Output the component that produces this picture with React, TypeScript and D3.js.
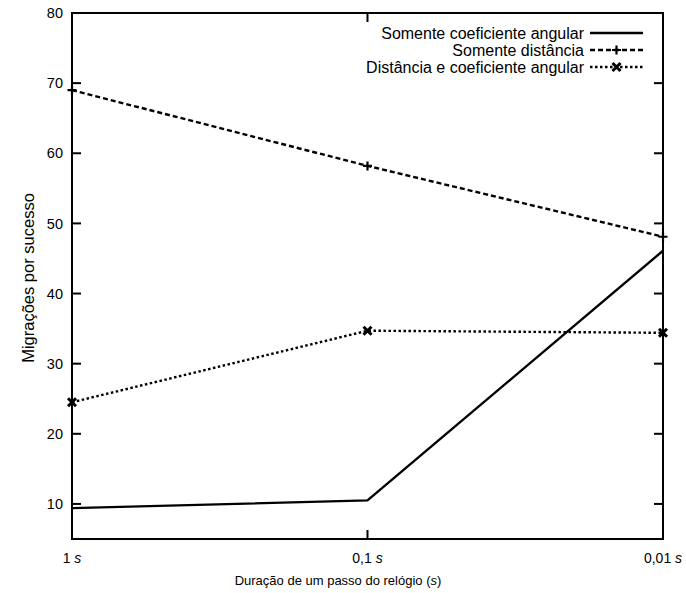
import React from "react";
import * as d3 from "d3";

// Clock step durations (seconds) and their tick labels
const durations = [1, 0.1, 0.01];
const durationLabels = ["1", "0,1", "0,01"];

// Migrations per success for each strategy
const somenteCoeficiente = [9.4, 10.5, 46.1];
const somenteDistancia = [69.0, 58.2, 48.1];
const distanciaECoeficiente = [24.5, 34.7, 34.4];

const seriesNames = [
  "Somente coeficiente angular",
  "Somente distância",
  "Distância e coeficiente angular",
];

const yTicks = [10, 20, 30, 40, 50, 60, 70, 80];

const W = 686;
const H = 593;
const M = { left: 72, right: 663, top: 13, bottom: 539 };
const FONT = "'Liberation Sans', Arial, Helvetica, sans-serif";

export default function App() {
  const x = d3.scaleLog().domain([1, 0.01]).range([M.left, M.right]);
  const y = d3.scaleLinear().domain([5, 80]).range([M.bottom, M.top]);

  const line = d3
    .line<number>()
    .x((_, i) => x(durations[i]))
    .y((v) => y(v));

  const series = [
    { name: seriesNames[0], values: somenteCoeficiente, dash: "none", marker: "none" },
    { name: seriesNames[1], values: somenteDistancia, dash: "5,3", marker: "plus" },
    { name: seriesNames[2], values: distanciaECoeficiente, dash: "2.5,2.5", marker: "cross" },
  ];

  const marker = (kind: string, cx: number, cy: number, key: string) => {
    if (kind === "plus") {
      const s = 4.5;
      return (
        <path
          key={key}
          d={`M${cx - s},${cy}H${cx + s}M${cx},${cy - s}V${cy + s}`}
          stroke="#000"
          strokeWidth={2.2}
          fill="none"
        />
      );
    }
    if (kind === "cross") {
      const s = 4;
      return (
        <path
          key={key}
          d={`M${cx - s},${cy - s}L${cx + s},${cy + s}M${cx - s},${cy + s}L${cx + s},${cy - s}`}
          stroke="#000"
          strokeWidth={3}
          fill="none"
        />
      );
    }
    return null;
  };

  const tickLen = 9;
  const legendX1 = 590;
  const legendX2 = 643;
  const legendTextX = 584;
  const legendRows = [33, 50, 67];

  return (
    <svg
      width={W}
      height={H}
      style={{ position: "absolute", left: 0, top: 0, background: "#fff" }}
      fontFamily={FONT}
    >
      <rect width={W} height={H} fill="#fff" />

      {/* y ticks, mirrored on the right side */}
      {yTicks.map((t) => (
        <g key={`yt${t}`}>
          <line x1={M.left} x2={M.left + tickLen} y1={y(t)} y2={y(t)} stroke="#000" strokeWidth={2} />
          <line x1={M.right - tickLen} x2={M.right} y1={y(t)} y2={y(t)} stroke="#000" strokeWidth={2} />
          <text x={63} y={y(t)} dy="0.36em" textAnchor="end" fontSize={14.5} fill="#000">
            {t}
          </text>
        </g>
      ))}

      {/* x ticks, mirrored on the top */}
      {durations.map((d, i) => (
        <g key={`xt${i}`}>
          <line x1={x(d)} x2={x(d)} y1={M.bottom} y2={M.bottom - tickLen} stroke="#000" strokeWidth={2} />
          <line x1={x(d)} x2={x(d)} y1={M.top} y2={M.top + tickLen} stroke="#000" strokeWidth={2} />
          <text x={x(d)} y={563} textAnchor="middle" fontSize={14} fill="#000">
            {durationLabels[i]} <tspan fontStyle="italic">s</tspan>
          </text>
        </g>
      ))}

      {/* series lines */}
      {series.map((s, si) => (
        <g key={`s${si}`}>
          <path
            d={line(s.values) || ""}
            fill="none"
            stroke="#000"
            strokeWidth={2.4}
            strokeDasharray={s.dash}
          />
          {s.values.map((v, i) => marker(s.marker, x(durations[i]), y(v), `m${si}-${i}`))}
        </g>
      ))}

      {/* frame */}
      <rect
        x={M.left}
        y={M.top}
        width={M.right - M.left}
        height={M.bottom - M.top}
        fill="none"
        stroke="#000"
        strokeWidth={2}
      />

      {/* legend */}
      {series.map((s, si) => (
        <g key={`l${si}`}>
          <text x={legendTextX} y={legendRows[si]} dy="0.36em" textAnchor="end" fontSize={16} fill="#000">
            {s.name}
          </text>
          <line
            x1={legendX1}
            x2={legendX2}
            y1={legendRows[si]}
            y2={legendRows[si]}
            stroke="#000"
            strokeWidth={2.4}
            strokeDasharray={s.dash}
          />
          {marker(s.marker, (legendX1 + legendX2) / 2, legendRows[si], `lm${si}`)}
        </g>
      ))}

      {/* axis titles */}
      <text x={338} y={585} textAnchor="middle" fontSize={13} fill="#000">
        Duração de um passo do relógio (<tspan fontStyle="italic">s</tspan>)
      </text>
      <text
        transform={`translate(28,278) rotate(-90)`}
        textAnchor="middle"
        dy="0.36em"
        fontSize={16.5}
        fill="#000"
      >
        Migrações por sucesso
      </text>
    </svg>
  );
}
